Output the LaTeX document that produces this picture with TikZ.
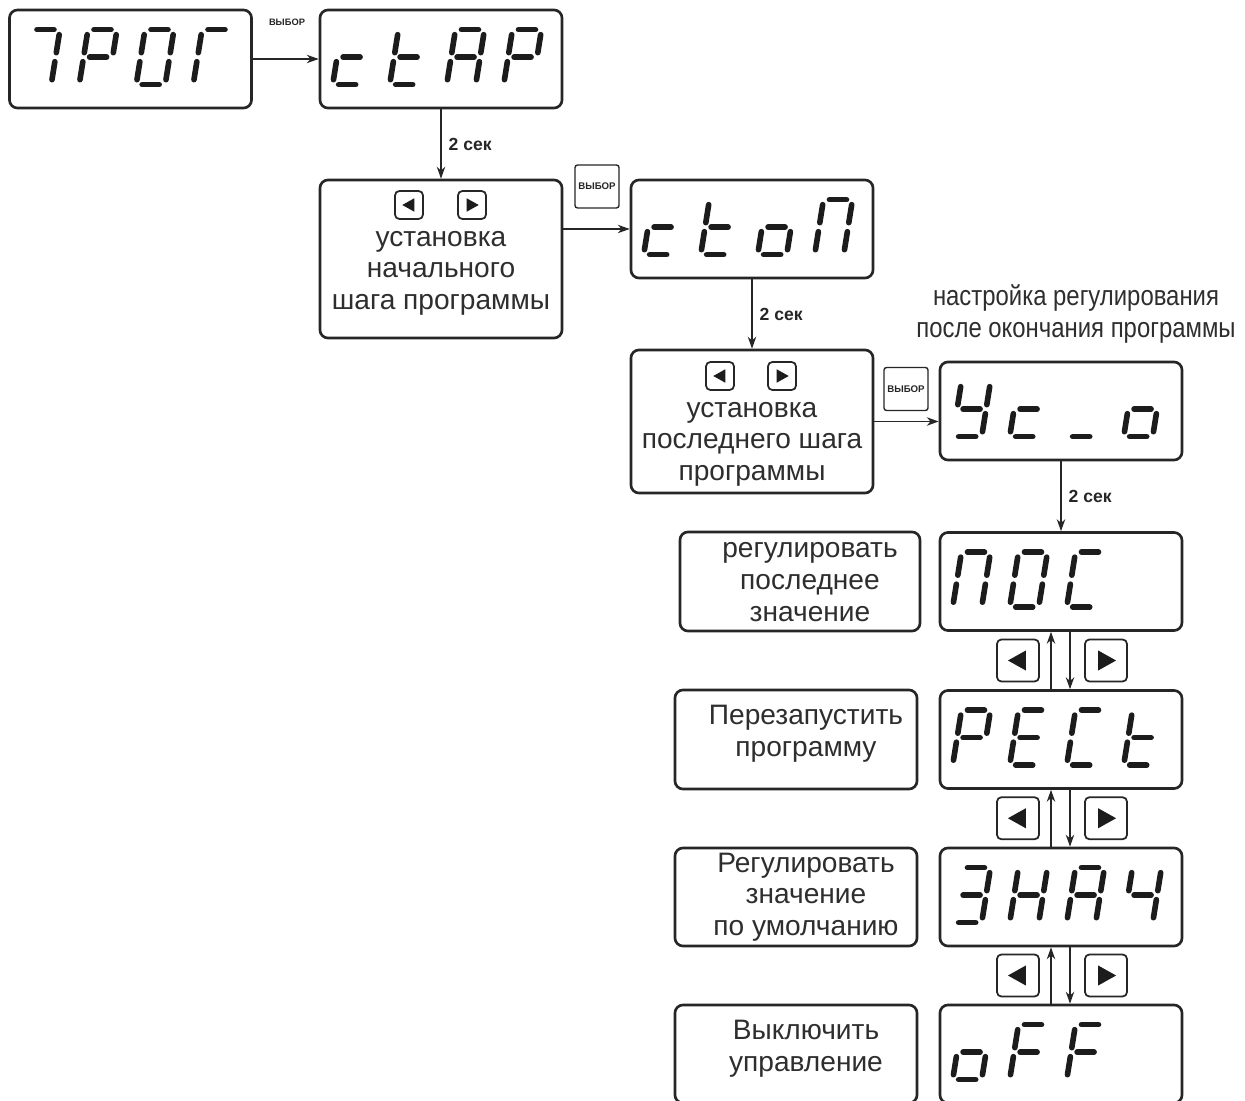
\documentclass[tikz,border=0pt]{standalone}
\usepackage{fontspec}
\setmainfont{Liberation Sans}
\newfontfamily\narrowsans[FakeStretch=0.85]{Liberation Sans}
\usetikzlibrary{calc,arrows.meta,positioning}
\definecolor{linec}{HTML}{262626}
\definecolor{segcol}{HTML}{1C1C1C}
\definecolor{textc}{HTML}{2E2E2E}
\tikzset{
  ar/.style={-{Stealth[length=2.4mm,width=1.7mm]},line width=0.7pt,linec},
  box/.style={draw=linec,line width=1.5pt,rounded corners=4.5pt,fill=white,inner sep=0pt},
  disp/.style={box,minimum width=242*0.02cm,minimum height=98*0.02cm},
  key/.style={draw=linec,line width=1pt,rounded corners=2.5pt,fill=white,inner sep=0pt},
  selkey/.style={draw=linec,line width=0.8pt,rounded corners=1.5pt,fill=white,inner sep=0pt,
    minimum width=44*0.02cm,minimum height=43*0.02cm,font=\bfseries\fontsize{5.5}{6}\selectfont,text=linec},
  txt/.style={font=\fontsize{16}{18}\selectfont,align=center,text=textc,inner sep=0pt},
  lbl/.style={font=\bfseries\fontsize{10}{11}\selectfont,text=linec,inner sep=1pt},
  sel/.style={font=\bfseries\fontsize{5.3}{6}\selectfont,text=linec,inner sep=0pt},
  seg/.style={line width=3.2pt,line cap=round,segcol}
}
% seven segments of one display digit
\newcommand{\sega}{\draw[seg] (6,-55) -- (23,-55);}
\newcommand{\segb}{\draw[seg] (29,-50) -- (29,-32);}
\newcommand{\segc}{\draw[seg] (29,-23) -- (29,-5);}
\newcommand{\segd}{\draw[seg] (6,0) -- (23,0);}
\newcommand{\sege}{\draw[seg] (0,-23) -- (0,-5);}
\newcommand{\segf}{\draw[seg] (0,-50) -- (0,-32);}
\newcommand{\segg}{\draw[seg] (6,-27.5) -- (23,-27.5);}
\newcommand{\lcd}[2]{%
  \foreach \chr [count=\i from 0] in {#2}{%
    \begin{scope}[shift={(#1.north west)},shift={(14+57*\i,76)},xslant=0.16]
      \foreach \s in \chr {\csname seg\s\endcsname}
    \end{scope}}}
\newcommand{\arrkey}[4]{%
  \node[key,minimum size=#3*0.02cm] (#1) at (#2) {};
  \fill[segcol,shift={(#1)},xscale=#4] (0.24*#3,0) -- (-0.19*#3,-0.24*#3) -- (-0.19*#3,0.24*#3) -- cycle;}

\begin{document}
\begin{tikzpicture}[x=0.02cm,y=-0.02cm]
\useasboundingbox (0,0) rectangle (1245,1101);
\clip (0,0) rectangle (1245,1101);
% displays
\node[disp] (prog) at (130.5,59) {};
\node[disp] (stap) at (441,59) {};
\node[disp] (stop) at (752,229) {};
\node[disp] (mode) at (1061,411) {};
\node[disp] (last) at (1061,581.5) {};
\node[disp] (rest) at (1061,739.5) {};
\node[disp] (dflt) at (1061,897) {};
\node[disp] (off) at (1061,1054) {};
\lcd{prog}{{a,b,c},{a,b,e,f,g},{a,b,c,d,e,f},{a,e,f}}
\lcd{stap}{{d,e,g},{d,e,f,g},{a,b,c,e,f,g},{a,b,e,f,g}}
\lcd{stop}{{d,e,g},{d,e,f,g},{c,d,e,g},{a,b,c,e,f}}
\lcd{mode}{{b,c,d,f,g},{d,e,g},{d},{c,d,e,g}}
\lcd{last}{{a,b,c,e,f},{a,b,c,d,e,f},{a,d,e,f}}
\lcd{rest}{{a,b,e,f,g},{a,d,e,f,g},{a,d,e,f},{d,e,f,g}}
\lcd{dflt}{{a,b,c,d,g},{b,c,e,f,g},{a,b,c,e,f,g},{b,c,f,g}}
\lcd{off}{{c,d,e,g},{a,e,f,g},{a,e,f,g}}
% setting boxes
\node[box,minimum width=242*0.02cm,minimum height=158*0.02cm] (setfirst) at (441,259) {};
\arrkey{fl}{409,205}{28}{-1}
\arrkey{fr}{472,205}{28}{1}
\node[txt] (setfirstT) at (441,273) {установка\\начального\\шага программы};
\node[box,minimum width=242*0.02cm,minimum height=143*0.02cm] (setlast) at (752,421.5) {};
\arrkey{ll}{720,376}{28}{-1}
\arrkey{lr}{782,376}{28}{1}
\node[txt] (setlastT) at (752,444) {установка\\последнего шага\\программы};
\node[txt,font=\narrowsans\fontsize{16}{18}\selectfont] (modeT) at (1076,314) {настройка регулирования\\после окончания программы};
% option texts
\node[box,minimum width=240*0.02cm,minimum height=99*0.02cm] (lastB) at (800,581.5) {};
\node[txt] (lastT) at (810,582) {регулировать\\последнее\\значение};
\node[box,minimum width=242*0.02cm,minimum height=99*0.02cm] (restB) at (796,739.5) {};
\node[txt] (restT) at (806,734) {Перезапустить\\программу};
\node[box,minimum width=242*0.02cm,minimum height=98*0.02cm] (dfltB) at (796,897) {};
\node[txt] (dfltT) at (806,897) {Регулировать\\значение\\по умолчанию};
\node[box,minimum width=242*0.02cm,minimum height=98*0.02cm] (offB) at (796,1054) {};
\node[txt] (offT) at (806,1049) {Выключить\\управление};
% select keys
\node[sel] (pick1) at (287,22) {ВЫБОР};
\node[selkey] (pick2) at (597,186.5) {ВЫБОР};
\node[selkey] (pick3) at (906,389) {ВЫБОР};
% connectors
\draw[ar] (prog) -- (stap);
\draw[ar] (stap) -- (setfirst) node[midway,right=3pt,lbl] (t1) {2 сек};
\draw[ar] (setfirst.east |- stop) -- (stop.west);
\draw[ar] (stop) -- (setlast) node[midway,right=3pt,lbl] (t2) {2 сек};
\draw[ar] (setlast.east) -- (setlast.east -| mode.west);
\draw[ar] (mode) -- (last) node[midway,right=3pt,lbl] (t3) {2 сек};
% scrolling between options
\foreach \a/\b [count=\k] in {last/rest,rest/dflt,dflt/off}{
  \draw[ar] ($(\b.north)+(-10,0)$) -- ($(\a.south)+(-10,0)$);
  \draw[ar] ($(\a.south)+(9,0)$) -- ($(\b.north)+(9,0)$);
  \arrkey{kl\k}{$(\a.south)!0.5!(\b.north)+(-43,0)$}{42}{-1}
  \arrkey{kr\k}{$(\a.south)!0.5!(\b.north)+(45,0)$}{42}{1}
}
\end{tikzpicture}
\end{document}
